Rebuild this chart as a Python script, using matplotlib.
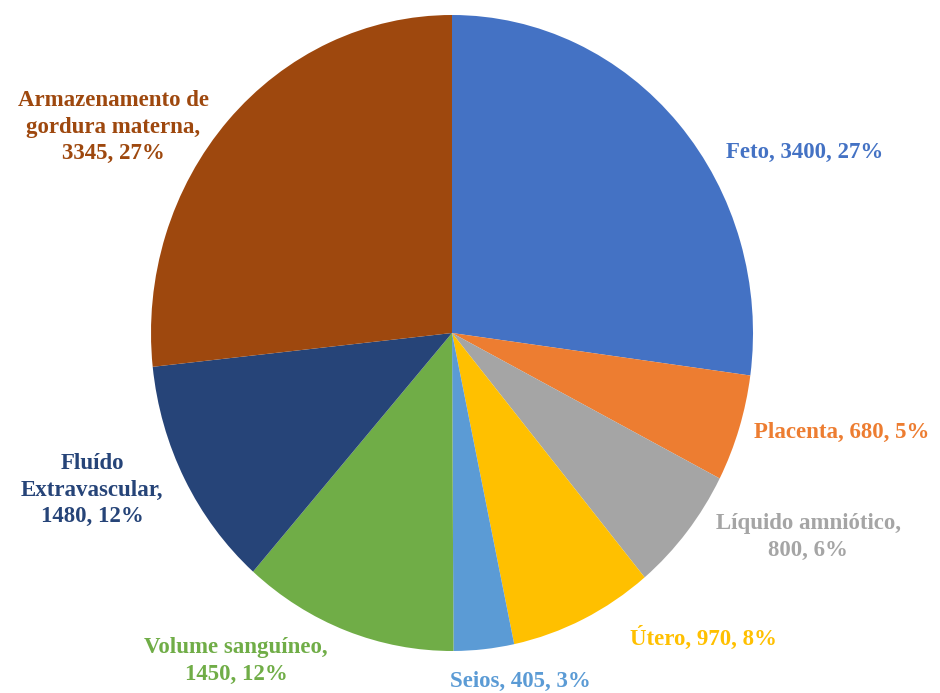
import matplotlib.pyplot as plt

# Dados do gráfico (ganho de peso na gestação, em gramas)
componentes = ['Feto', 'Placenta', 'Líquido amniótico', 'Útero', 'Seios',
               'Volume sanguíneo', 'Fluído Extravascular',
               'Armazenamento de gordura materna']
rotulos = ['Feto', 'Placenta', 'Líquido amniótico,\n', 'Útero', 'Seios',
           'Volume sanguíneo,\n', 'Fluído\nExtravascular,\n',
           'Armazenamento de\ngordura materna,\n']
valores = [3400, 680, 800, 970, 405, 1450, 1480, 3345]
cores = ['#4472C4', '#ED7D31', '#A5A5A5', '#FFC000', '#5B9BD5',
         '#70AD47', '#264478', '#9E480E']

# Posição (em pixels) do centro de cada rótulo
pos_rotulos = [(805, 152), (842, 432), (808, 537), (703, 638), (520, 681),
               (236, 661), (92, 490), (113, 127)]

W, H = 940, 693
fig = plt.figure(figsize=(W / 100, H / 100), dpi=100)
ax = fig.add_axes([151 / W, 42 / H, 602 / W, 636 / H])

ax.pie(valores, colors=cores, startangle=90, counterclock=False, radius=1,
       wedgeprops={'linewidth': 0})
ax.set_aspect('auto')
ax.set_xlim(-1, 1)
ax.set_ylim(-1, 1)

total = sum(valores)
for rot, v, cor, (px, py) in zip(rotulos, valores, cores, pos_rotulos):
    pct = round(100 * v / total)
    sep = '' if rot.endswith('\n') else ', '
    texto = f'{rot}{sep}{v}, {pct}%'
    fig.text(px / W, 1 - py / H, texto, color=cor, ha='center', va='center',
             fontsize=16.5, fontweight='bold', family='Liberation Serif',
             linespacing=1.32)

fig.savefig('out.png', dpi=100)
